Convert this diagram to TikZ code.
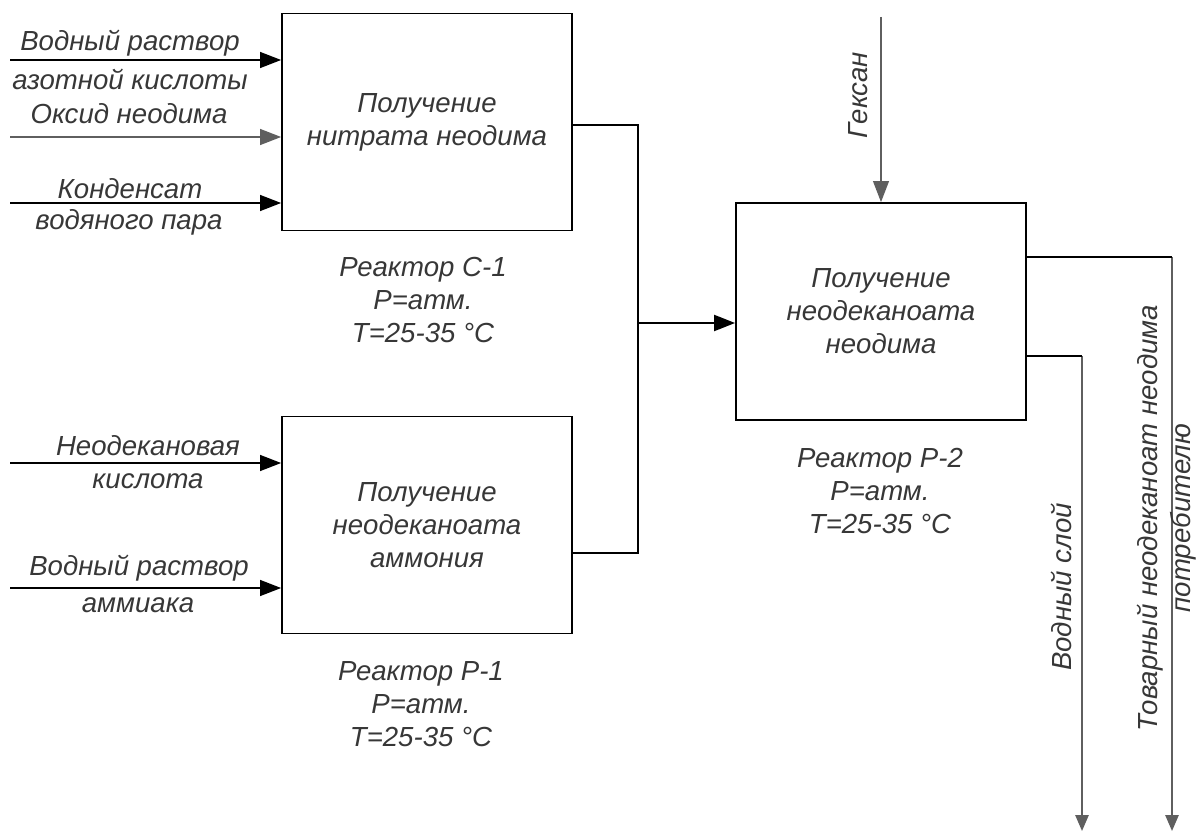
\documentclass[tikz,border=0pt]{standalone}
\usepackage{fontspec}
\setmainfont{Liberation Sans}
\usetikzlibrary{arrows.meta,positioning,calc}
\definecolor{TextGray}{RGB}{55,55,55}
\definecolor{LineGray}{RGB}{95,95,95}
\tikzset{
  stage/.style={draw=black,line width=1pt,minimum width=5.8cm,minimum height=4.34cm,align=center,font=\itshape\fontsize{15.7}{18.8}\selectfont,text=TextGray},
  feedlabel/.style={font=\itshape\fontsize{15.7}{18.8}\selectfont,text=TextGray,inner sep=0pt},
  reactorlabel/.style={font=\itshape\fontsize{15.7}{18.8}\selectfont,text=TextGray,align=center,inner sep=0pt},
  feed/.style={-{Triangle[length=12pt,width=9pt]},line width=1.1pt,draw=black},
  trunk/.style={line width=1.6pt,draw=black},
  mainflow/.style={-{Triangle[length=12pt,width=9pt]},line width=1.6pt,draw=black},
  outflow/.style={-{Triangle[length=9pt,width=7.5pt]},line width=1pt,draw=LineGray}
}
\begin{document}
\begin{tikzpicture}[x=0.02cm,y=-0.02cm]
\useasboundingbox (0,0) rectangle (1197,831);
% stages
\node[stage] (nitrate) at (427,122) {Получение\\нитрата неодима};
\node[stage] (ammon) at (427,525) {Получение\\неодеканоата\\аммония};
\node[stage] (neod) at (881,311.5) {Получение\\неодеканоата\\неодима};
\node[reactorlabel] (lblC1) at (423,300) {Реактор С-1\\Р=атм.\\Т=25-35 °С};
\node[reactorlabel] (lblP1) at (421,704) {Реактор Р-1\\Р=атм.\\Т=25-35 °С};
\node[reactorlabel] (lblP2) at (880,491) {Реактор Р-2\\Р=атм.\\Т=25-35 °С};
% feeds
\coordinate (f1) at (10,60);
\coordinate (f2) at (10,137);
\coordinate (f3) at (10,203);
\coordinate (f4) at (10,463);
\coordinate (f5) at (10,588);
\coordinate (hex) at (881,17);
\draw[feed] (f1) -- (f1 -| nitrate.west);
\draw[feed,draw=LineGray] (f2) -- (f2 -| nitrate.west);
\draw[feed] (f3) -- (f3 -| nitrate.west);
\draw[feed] (f4) -- (f4 -| ammon.west);
\draw[feed] (f5) -- (f5 -| ammon.west);
\draw[feed,line width=0.9pt,draw=LineGray] (hex) -- (neod.north);
\node[feedlabel] (t1a) at (130,43) {Водный раствор};
\node[feedlabel] (t1b) at (130,79) {азотной кислоты};
\node[feedlabel] (t2) at (129,114) {Оксид неодима};
\node[feedlabel] (t3a) at (130,189) {Конденсат};
\node[feedlabel] (t3b) at (129,222) {водяного пара};
\node[feedlabel] (t4a) at (148,446) {Неодекановая};
\node[feedlabel] (t4b) at (148,481) {кислота};
\node[feedlabel] (t5a) at (139,568) {Водный раствор};
\node[feedlabel] (t5b) at (138,605) {аммиака};
\node[feedlabel,rotate=90] (thex) at (858,95) {Гексан};
% intermediate flows
\coordinate (bus) at (638,323);
\draw[trunk] ($(nitrate.east)+(0,3)$) -| (bus);
\draw[trunk] ($(ammon.east)+(0,28)$) -| (bus);
\draw[mainflow] (bus) -- (bus -| neod.west);
% products
\coordinate (prodout) at (1172,831);
\coordinate (aqout) at (1082,831);
\coordinate (prodbend) at (1172,257);
\coordinate (aqbend) at (1082,356);
\draw[outflow] (prodbend) -- (prodout);
\draw[outflow] (aqbend) -- (aqout);
\draw[trunk] (neod.east |- prodbend) -- (prodbend);
\draw[trunk,line width=1.3pt] (neod.east |- aqbend) -- (aqbend);
\node[feedlabel,rotate=90] (taq) at (1061,587) {Водный слой};
\node[reactorlabel,rotate=90] (tprod) at (1167,518) {Товарный неодеканоат неодима\\потребителю};
\end{tikzpicture}
\end{document}
